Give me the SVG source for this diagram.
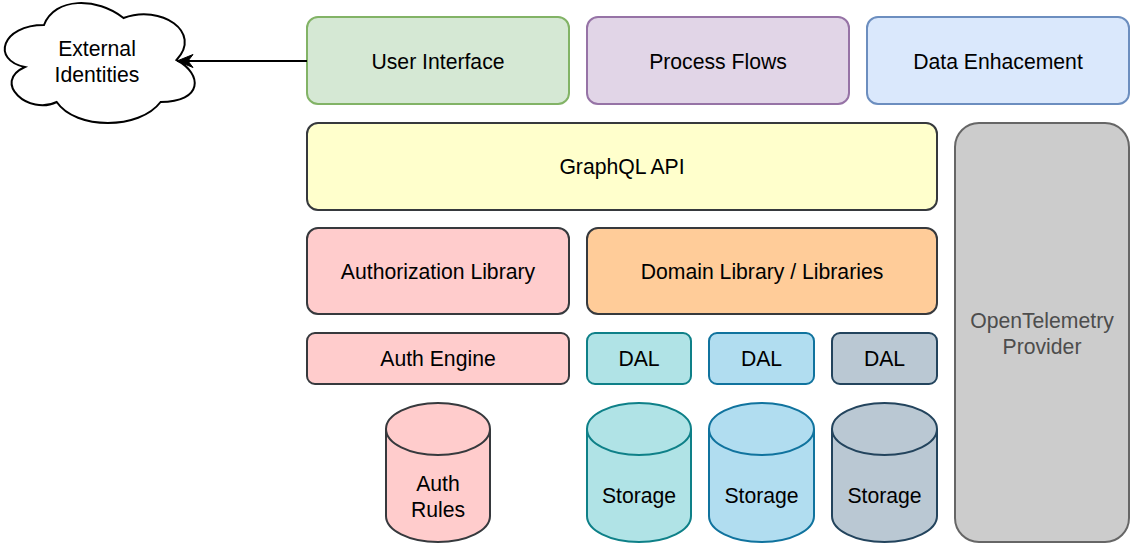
<svg xmlns="http://www.w3.org/2000/svg" width="1136" height="551" viewBox="0 0 1136 551">
<style>
text{font-family:"Liberation Sans",Arial,sans-serif;font-size:21.2px;fill:#000;text-anchor:middle;dominant-baseline:central}
.b{stroke-width:2}
.arc{fill:none;stroke-width:2}
</style>
<defs>
<marker id="arr" viewBox="0 0 20 16" refX="18" refY="8" markerWidth="20" markerHeight="16" markerUnits="userSpaceOnUse" orient="auto">
<path d="M18,8 L2,1.5 L7,8 L2,14.5 Z" fill="#000" stroke="#000" stroke-width="1"/>
</marker>
</defs>
<rect width="1136" height="551" fill="#fff"/>
<g id="external-identities">
<path class="b" d="M44,25 C1.6,25 -9,60 24.9,67 C-9,82.4 29.2,116 56.7,102 C75.8,130 139.4,130 160.6,102 C203,102 203,74 176.5,60 C203,32 160.6,4 123.5,18 C97,-3 54.6,-3 44,25 Z" fill="#fff" stroke="#000"/>
<text x="97" y="48">External</text>
<text x="97" y="74">Identities</text>
</g>
<g id="user-interface">
<rect class="b" x="307" y="17" width="262" height="87" rx="11" fill="#d5e8d4" stroke="#82b366"/>
<text x="438" y="61">User Interface</text>
</g>
<g id="process-flows">
<rect class="b" x="587" y="17" width="262" height="87" rx="11" fill="#e1d5e7" stroke="#9673a6"/>
<text x="718" y="61">Process Flows</text>
</g>
<g id="data-enhacement">
<rect class="b" x="867" y="17" width="262" height="87" rx="11" fill="#dae8fc" stroke="#6c8ebf"/>
<text x="998" y="61">Data Enhacement</text>
</g>
<g id="graphql-api">
<rect class="b" x="307" y="123" width="630" height="87" rx="11" fill="#ffffcc" stroke="#36393d"/>
<text x="622" y="166">GraphQL API</text>
</g>
<g id="opentelemetry-provider">
<rect class="b" x="955" y="123" width="174" height="419" rx="24" fill="#cccccc" stroke="#666666"/>
<text x="1042" y="320" style="fill:#4d4d4d">OpenTelemetry</text>
<text x="1042" y="346" style="fill:#4d4d4d">Provider</text>
</g>
<g id="authorization-library">
<rect class="b" x="307" y="228" width="262" height="86" rx="11" fill="#ffcccc" stroke="#36393d"/>
<text x="438" y="271">Authorization Library</text>
</g>
<g id="domain-library">
<rect class="b" x="587" y="228" width="350" height="86" rx="11" fill="#ffcc99" stroke="#36393d"/>
<text x="762" y="271">Domain Library / Libraries</text>
</g>
<g id="auth-engine">
<rect class="b" x="307" y="333" width="262" height="51" rx="8" fill="#ffcccc" stroke="#36393d"/>
<text x="438" y="358">Auth Engine</text>
</g>
<g id="dal-1">
<rect class="b" x="587" y="333" width="104" height="51" rx="8" fill="#b0e3e6" stroke="#0e8088"/>
<text x="639" y="358">DAL</text>
</g>
<g id="dal-2">
<rect class="b" x="709" y="333" width="105" height="51" rx="8" fill="#b1ddf0" stroke="#10739e"/>
<text x="761.5" y="358">DAL</text>
</g>
<g id="dal-3">
<rect class="b" x="832" y="333" width="105" height="51" rx="8" fill="#bac8d3" stroke="#23445d"/>
<text x="884.5" y="358">DAL</text>
</g>
<g id="auth-rules">
<path class="b" d="M386,429 A52,26 0 0 1 490,429 L490,516 A52,26 0 0 1 386,516 Z" fill="#ffcccc" stroke="#36393d"/>
<path class="arc" d="M386,429 A52,26 0 0 0 490,429" stroke="#36393d"/>
<text x="438" y="483">Auth</text>
<text x="438" y="509">Rules</text>
</g>
<g id="storage-1">
<path class="b" d="M587,429 A52,26 0 0 1 691,429 L691,516 A52,26 0 0 1 587,516 Z" fill="#b0e3e6" stroke="#0e8088"/>
<path class="arc" d="M587,429 A52,26 0 0 0 691,429" stroke="#0e8088"/>
<text x="639" y="495">Storage</text>
</g>
<g id="storage-2">
<path class="b" d="M709,429 A52.5,26 0 0 1 814,429 L814,516 A52.5,26 0 0 1 709,516 Z" fill="#b1ddf0" stroke="#10739e"/>
<path class="arc" d="M709,429 A52.5,26 0 0 0 814,429" stroke="#10739e"/>
<text x="761.5" y="495">Storage</text>
</g>
<g id="storage-3">
<path class="b" d="M832,429 A52.5,26 0 0 1 937,429 L937,516 A52.5,26 0 0 1 832,516 Z" fill="#bac8d3" stroke="#23445d"/>
<path class="arc" d="M832,429 A52.5,26 0 0 0 937,429" stroke="#23445d"/>
<text x="884.5" y="495">Storage</text>
</g>
<g id="connectors">
<path d="M307,61 L177,61" fill="none" stroke="#000" stroke-width="2" marker-end="url(#arr)"/>
</g>
</svg>
